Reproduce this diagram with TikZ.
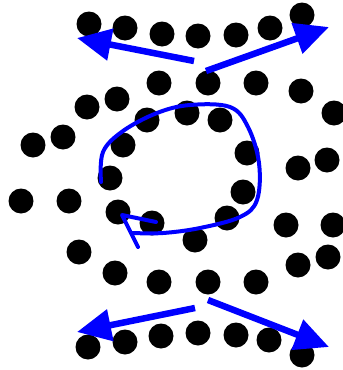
\documentclass[tikz,border=0pt]{standalone}
\usetikzlibrary{arrows.meta}
\definecolor{pblue}{RGB}{0,0,255}
\tikzset{
  dot/.style={fill=black},
  bigarrow/.style={draw=pblue, line width=6.5pt, -{Triangle[length=34pt,width=31pt]}},
  curl/.style={draw=pblue, line width=4pt, line cap=round, line join=round}
}
\begin{document}
\begin{tikzpicture}[x=1pt,y=-1pt]
\useasboundingbox (0,0) rectangle (343,370);
% dots
\foreach \p in {(89,24),(125,28),(162,34),(198,36),(236,35),(270,28),(302,15),
  (159,83),(208,83),(256,83),
  (117,99),(87,107),(63,137),(33,145),(21,201),(69,201),(79,252),(115,273),(159,282),(208,282),(256,282),
  (147,120),(187,113),(220,120),(123,145),(247,153),(110,178),(243,192),(118,212),(152,223),(227,218),(195,240),
  (301,91),(334,113),(327,160),(298,168),(286,225),(333,225),(298,265),(328,257),
  (88,347),(125,342),(161,336),(198,333),(236,335),(269,340),(302,355)}
  \fill[dot] \p circle (12.5);
% big arrows
\coordinate (tls) at (194,61); \coordinate (tlt) at (77,38);
\coordinate (trs) at (206,71); \coordinate (trt) at (329,27);
\coordinate (bls) at (195,308); \coordinate (blt) at (77,332);
\coordinate (brs) at (208,300); \coordinate (brt) at (329,347);
\draw[bigarrow] (tls) -- (tlt);
\draw[bigarrow] (trs) -- (trt);
\draw[bigarrow] (bls) -- (blt);
\draw[bigarrow] (brs) -- (brt);
% curl
\draw[curl] plot[smooth, tension=0.6] coordinates {(101,182) (103,152) (123,131) (157,113) (190,105) (230,107) (248,127) (259,163) (257,200) (240,217) (200,228) (163,233) (132,233)};
\draw[curl] (156,222) -- (122,215) -- (138,247);
\end{tikzpicture}
\end{document}
